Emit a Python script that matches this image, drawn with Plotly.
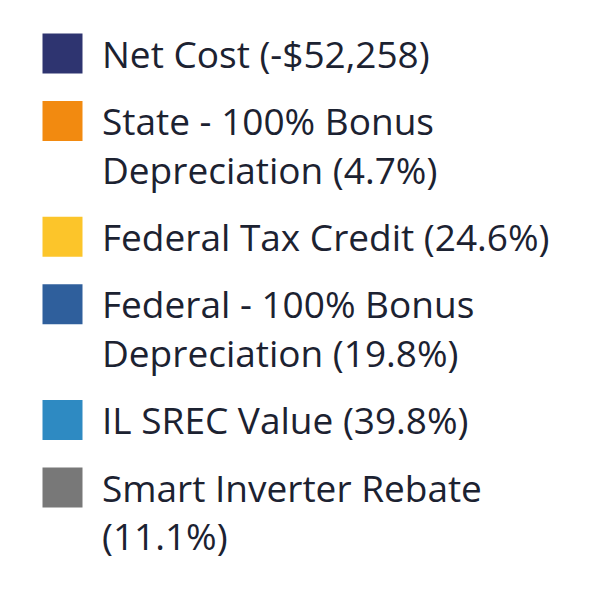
import plotly.graph_objects as go

# ---- data ----
labels = [
    ["Net Cost (-$52,258)"],
    ["State - 100% Bonus", "Depreciation (4.7%)"],
    ["Federal Tax Credit (24.6%)"],
    ["Federal - 100% Bonus", "Depreciation (19.8%)"],
    ["IL SREC Value (39.8%)"],
    ["Smart Inverter Rebate", "(11.1%)"],
]
colors = ["#2e3470", "#f28a10", "#fcc52a", "#2f5f9c", "#2e8ac2", "#787878"]

# ---- layout parameters (pixels) ----
W = H = 600
top = 54.5          # cap-centre of first line of first item
item_pitch = 67.4   # distance between items (excluding extra wrapped lines)
line_step = 48.5    # distance between wrapped lines
sq_x = 62.5
sq_size = 40
text_x = 102
font_size = 37
text_offset = 4     # plotly 'middle' baseline offset -> cap centre
text_color = "#1c2231"

fig = go.Figure()
extra = 0
for k, (lines, col) in enumerate(zip(labels, colors)):
    y0 = top + k * item_pitch + extra * line_step
    fig.add_trace(go.Scatter(
        x=[sq_x], y=[y0 - 1], mode="markers",
        marker=dict(symbol="square", size=sq_size, color=col, line=dict(width=0)),
        hoverinfo="skip",
    ))
    ys = [y0 + i * line_step + text_offset for i in range(len(lines))]
    fig.add_trace(go.Scatter(
        x=[text_x] * len(lines), y=ys, mode="text", text=lines,
        textposition="middle right",
        textfont=dict(family="Open Sans", size=font_size, color=text_color),
        hoverinfo="skip",
    ))
    extra += len(lines) - 1

fig.update_layout(
    width=W, height=H, margin=dict(l=0, r=0, t=0, b=0),
    paper_bgcolor="white", plot_bgcolor="white", showlegend=False,
    xaxis=dict(range=[0, W], visible=False, fixedrange=True),
    yaxis=dict(range=[H, 0], visible=False, fixedrange=True),
)
fig.write_html("out.html")
